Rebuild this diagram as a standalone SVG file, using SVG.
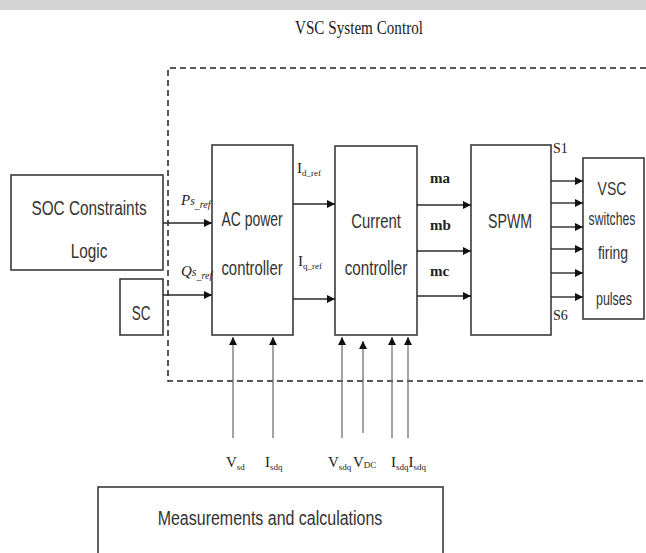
<svg xmlns="http://www.w3.org/2000/svg" width="646" height="553" viewBox="0 0 646 553">
<style>
.box{fill:#fff;stroke:#3a3a3a;stroke-width:1.6}
.lbl{font-family:"Liberation Sans",Arial,sans-serif;font-size:21px;fill:#333;text-anchor:middle}
.sm{font-size:18px}
.ser{font-family:"Liberation Serif","Times New Roman",serif;fill:#222}
.wire{stroke:#2a2a2a;stroke-width:1.4;fill:none}
.wireb{stroke:#666;stroke-width:1.2;fill:none}
.dash{stroke:#222;stroke-width:1.5;fill:none;stroke-dasharray:6,4}
</style>
<defs>
<marker id="ah" viewBox="0 0 10 10" refX="10" refY="5" markerWidth="8" markerHeight="8" markerUnits="userSpaceOnUse" orient="auto">
<path d="M0,0 L10,5 L0,10 z" fill="#111"/>
</marker>
<marker id="ahb" viewBox="0 0 10 10" refX="10" refY="5" markerWidth="9" markerHeight="8" markerUnits="userSpaceOnUse" orient="auto">
<path d="M0,0 L10,5 L0,10 z" fill="#111"/>
</marker>
</defs>
<rect x="0" y="0" width="646" height="553" fill="#fff"/>
<rect x="0" y="0" width="646" height="10" fill="#d4d4d4"/>

<g id="title">
<text class="ser" x="359" y="34" font-size="18" text-anchor="middle" textLength="128" lengthAdjust="spacingAndGlyphs">VSC  System Control</text>
</g>

<g id="boundary">
<path class="dash" d="M646,68 L168,68 L168,381 L646,381"/>
</g>

<g id="soc">
<rect class="box" x="11" y="175" width="152" height="95"/>
<text class="lbl" transform="translate(89,215) scale(0.72,1)" textLength="160" lengthAdjust="spacingAndGlyphs">SOC Constraints</text>
<text class="lbl" transform="translate(89,258) scale(0.72,1)" textLength="51" lengthAdjust="spacingAndGlyphs">Logic</text>
</g>

<g id="sc">
<rect class="box" x="120" y="279" width="43" height="56"/>
<text class="lbl" transform="translate(141,320) scale(0.72,1)" textLength="26" lengthAdjust="spacingAndGlyphs">SC</text>
</g>

<g id="acpc">
<rect class="box" x="212" y="145" width="81" height="190"/>
<text class="lbl" transform="translate(252,226) scale(0.72,1)" textLength="85" lengthAdjust="spacingAndGlyphs">AC power</text>
<text class="lbl" transform="translate(252,275) scale(0.72,1)" textLength="85" lengthAdjust="spacingAndGlyphs">controller</text>
</g>

<g id="cc">
<rect class="box" x="335" y="146" width="82" height="189"/>
<text class="lbl" transform="translate(376,228) scale(0.72,1)" textLength="69" lengthAdjust="spacingAndGlyphs">Current</text>
<text class="lbl" transform="translate(376,275) scale(0.72,1)" textLength="87" lengthAdjust="spacingAndGlyphs">controller</text>
</g>

<g id="spwm">
<rect class="box" x="471" y="145" width="80" height="190"/>
<text class="lbl" transform="translate(510,228) scale(0.72,1)" textLength="61" lengthAdjust="spacingAndGlyphs">SPWM</text>
</g>

<g id="vscsw">
<rect class="box" x="583" y="158" width="61" height="161"/>
<text class="lbl sm" transform="translate(612,195) scale(0.72,1)" textLength="40" lengthAdjust="spacingAndGlyphs">VSC</text>
<text class="lbl sm" transform="translate(612,225) scale(0.72,1)" textLength="65" lengthAdjust="spacingAndGlyphs">switches</text>
<text class="lbl sm" transform="translate(613,259) scale(0.72,1)" textLength="42" lengthAdjust="spacingAndGlyphs">firing</text>
<text class="lbl sm" transform="translate(614,305) scale(0.72,1)" textLength="50" lengthAdjust="spacingAndGlyphs">pulses</text>
</g>

<g id="meas">
<rect class="box" x="98" y="487" width="345" height="80"/>
<text class="lbl" transform="translate(270,525) scale(0.72,1)" textLength="312" lengthAdjust="spacingAndGlyphs">Measurements and calculations</text>
</g>

<g id="connectors">
<line class="wire" x1="163" y1="223" x2="212" y2="223" marker-end="url(#ah)"/>
<line class="wire" x1="163" y1="295" x2="212" y2="295" marker-end="url(#ah)"/>
<line class="wire" x1="293" y1="204" x2="335" y2="204" marker-end="url(#ah)"/>
<line class="wire" x1="293" y1="299" x2="335" y2="299" marker-end="url(#ah)"/>
<line class="wire" x1="417" y1="205" x2="471" y2="205" marker-end="url(#ah)"/>
<line class="wire" x1="417" y1="251" x2="471" y2="251" marker-end="url(#ah)"/>
<line class="wire" x1="417" y1="296" x2="471" y2="296" marker-end="url(#ah)"/>
<line class="wire" x1="551" y1="181" x2="583" y2="181" marker-end="url(#ah)"/>
<line class="wire" x1="551" y1="203" x2="583" y2="203" marker-end="url(#ah)"/>
<line class="wire" x1="551" y1="227" x2="583" y2="227" marker-end="url(#ah)"/>
<line class="wire" x1="551" y1="249" x2="583" y2="249" marker-end="url(#ah)"/>
<line class="wire" x1="551" y1="273" x2="583" y2="273" marker-end="url(#ah)"/>
<line class="wire" x1="551" y1="297" x2="583" y2="297" marker-end="url(#ah)"/>
<line class="wireb" x1="233" y1="438" x2="233" y2="337" marker-end="url(#ahb)"/>
<line class="wireb" x1="273" y1="438" x2="273" y2="337" marker-end="url(#ahb)"/>
<line class="wireb" x1="342" y1="438" x2="342" y2="337" marker-end="url(#ahb)"/>
<line class="wireb" x1="363" y1="433" x2="363" y2="341" marker-end="url(#ahb)"/>
<line class="wireb" x1="392" y1="438" x2="392" y2="337" marker-end="url(#ahb)"/>
<line class="wireb" x1="408" y1="438" x2="408" y2="337" marker-end="url(#ahb)"/>
</g>

<g id="labels" class="ser">
<text x="181" y="205" font-size="15" font-style="italic">P<tspan font-size="12">s</tspan><tspan font-size="10" dy="3">_ref</tspan></text>
<text x="181" y="276" font-size="15" font-style="italic">Q<tspan font-size="12">s</tspan><tspan font-size="10" dy="3">_ref</tspan></text>
<text x="297" y="173" font-size="15">I<tspan font-size="9" dy="3">d_ref</tspan></text>
<text x="298" y="266" font-size="15">I<tspan font-size="9" dy="3">q_ref</tspan></text>
<text x="430" y="183" font-size="15" font-weight="bold">ma</text>
<text x="430" y="230" font-size="15" font-weight="bold">mb</text>
<text x="430" y="276" font-size="15" font-weight="bold">mc</text>
<text x="553" y="153" font-size="14">S1</text>
<text x="553" y="320" font-size="14">S6</text>
<text x="226" y="467" font-size="15">V<tspan font-size="9" dy="3">sd</tspan></text>
<text x="265" y="467" font-size="15">I<tspan font-size="9" dy="3">sdq</tspan></text>
<text x="328" y="467" font-size="15">V<tspan font-size="9" dy="3">sdq</tspan></text>
<text x="353" y="467" font-size="15">V<tspan font-size="9" dy="1">DC</tspan></text>
<text x="391" y="467" font-size="15">I<tspan font-size="9" dy="3">sdq</tspan><tspan font-size="15" dy="-3">I</tspan><tspan font-size="9" dy="3">sdq</tspan></text>
</g>
</svg>
